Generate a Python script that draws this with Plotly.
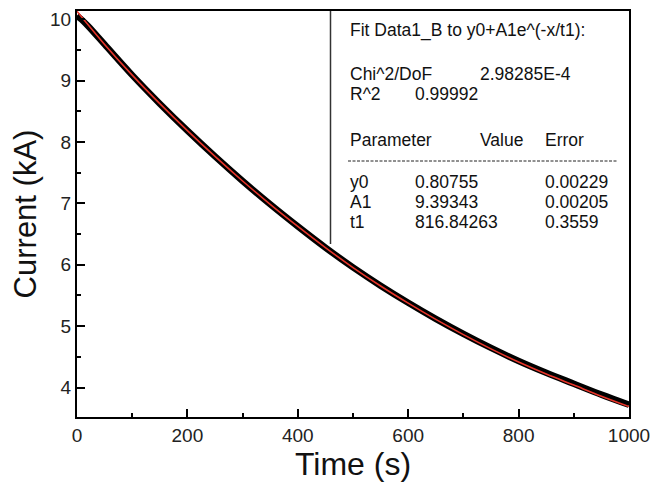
import plotly.graph_objects as go

# ---- data ----
time_s = [0, 50, 100, 150, 200, 250, 300, 350, 400, 450, 500,
          550, 600, 650, 700, 750, 800, 850, 900, 950, 1000]
current_fit = [10.13, 9.59, 9.09, 8.625, 8.185, 7.765, 7.365, 6.985, 6.625, 6.28, 5.955,
               5.655, 5.375, 5.11, 4.862, 4.63, 4.415, 4.22, 4.04, 3.86, 3.69]
data_time = [0, 5, 10, 20, 50, 100, 150, 200, 250, 300, 350, 400, 450, 500,
             550, 600, 650, 700, 750, 800, 850, 900, 950, 1000]
current_data = [10.06, 10.02, 9.98, 9.89, 9.59, 9.09, 8.625, 8.185, 7.765, 7.365, 6.985, 6.625,
                6.28, 5.958, 5.66, 5.382, 5.12, 4.875, 4.645, 4.432, 4.24, 4.062, 3.885, 3.72]

x_ticks = [0, 200, 400, 600, 800, 1000]
y_ticks = [4, 5, 6, 7, 8, 9, 10]

fit_title = "Fit Data1_B to y0+A1e^(-x/t1):"
stats = [("Chi^2/DoF", "2.98285E-4"), ("R^2", "0.99992")]
param_header = ("Parameter", "Value", "Error")
params = [("y0", "0.80755", "0.00229"),
          ("A1", "9.39343", "0.00205"),
          ("t1", "816.84263", "0.3559")]

W, H = 663, 482
L, R, T, B = 77, 34, 11, 65
PW, PH = W - L - R, H - T - B

def px(x):
    return (x - L) / PW

def py(y):
    return (H - B - y) / PH

FONT = "Liberation Sans, Arial, sans-serif"

fig = go.Figure()
fig.add_trace(go.Scatter(x=data_time, y=current_data, mode="lines", line_shape="spline",
                         line=dict(color="black", width=6.5, smoothing=1.0), showlegend=False))
fig.add_trace(go.Scatter(x=time_s, y=current_fit, mode="lines", line_shape="spline",
                         line=dict(color="#e8352a", width=1.6, smoothing=1.0), showlegend=False))

axis_common = dict(showgrid=False, zeroline=False, showline=True, linecolor="black",
                   linewidth=2, mirror=True, ticks="inside", ticklen=8, tickwidth=1.8,
                   tickcolor="black", automargin=False,
                   tickfont=dict(family=FONT, size=19, color="#222"))

fig.update_xaxes(range=[0, 1000], tickvals=x_ticks,
                 minor=dict(dtick=100, ticks="inside", ticklen=4, tickwidth=1.5, tickcolor="black"),
                 title=dict(text="Time (s)", font=dict(family=FONT, size=32, color="#111"), standoff=2),
                 **axis_common)
fig.update_yaxes(range=[3.52, 10.135], tickvals=y_ticks,
                 minor=dict(dtick=0.5, ticks="inside", ticklen=4, tickwidth=1.5, tickcolor="black"),
                 title=dict(text="Current (kA)", font=dict(family=FONT, size=31, color="#111"), standoff=4),
                 **axis_common)

ann = []
def txt(x, y, s):
    ann.append(dict(x=px(x), y=py(y), xref="paper", yref="paper", text=s, showarrow=False,
                    xanchor="left", yanchor="middle",
                    font=dict(family=FONT, size=17.5, color="#111")))

txt(348, 30, fit_title)
stat_x = [(348, 478), (348, 413)]
stat_y = [74, 94]
for (k, v), (x1, x2), yy in zip(stats, stat_x, stat_y):
    txt(x1, yy, k)
    txt(x2, yy, v)
for s, xx in zip(param_header, [348, 478, 543]):
    txt(xx, 140, s)
for (n, v, e), yy in zip(params, [182, 202, 222]):
    txt(348, yy, n)
    txt(413, yy, v)
    txt(543, yy, e)

shapes = [
    dict(type="line", xref="paper", yref="paper", x0=px(348), x1=px(617), y0=py(161), y1=py(161),
         line=dict(color="#222", width=1, dash="3px,1.5px")),
    dict(type="line", xref="paper", yref="paper", x0=px(330.5), x1=px(330.5), y0=py(11), y1=py(244),
         line=dict(color="#333", width=1.5)),
]

fig.update_layout(width=W, height=H, margin=dict(l=L, r=R, t=T, b=B),
                  paper_bgcolor="white", plot_bgcolor="white",
                  annotations=ann, shapes=shapes)

fig.write_html("out.html", config={"displayModeBar": False})

# remove the browser's default page margin so the figure sits at the window's corner
with open("out.html", "r", encoding="utf-8") as f:
    html = f.read()
html = html.replace("<head>", "<head><style>html,body{margin:0;padding:0;overflow:hidden;}</style>", 1)
with open("out.html", "w", encoding="utf-8") as f:
    f.write(html)
